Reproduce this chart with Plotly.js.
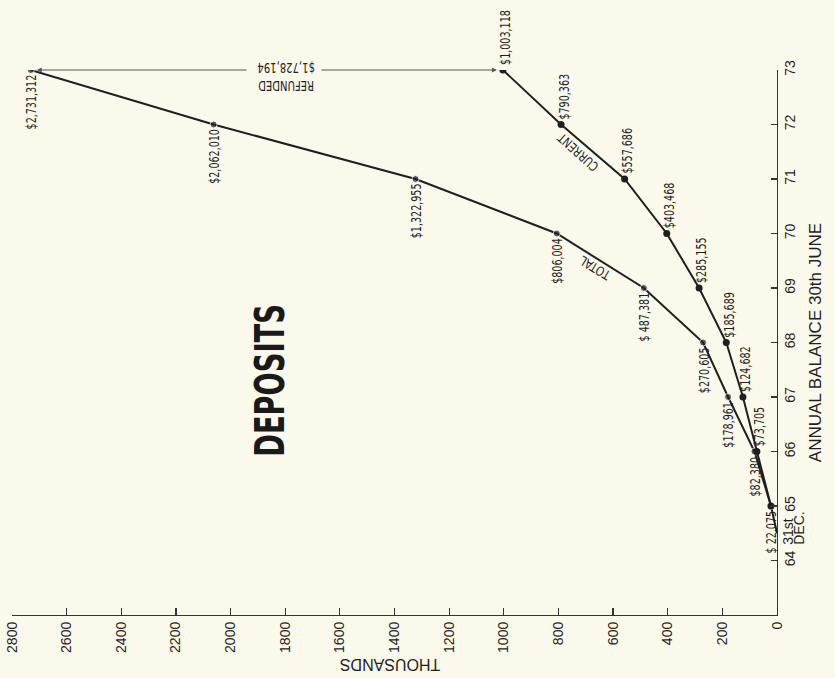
<!DOCTYPE html>
<html>
<head>
<meta charset="utf-8">
<script src="https://cdn.plot.ly/plotly-3.0.1.min.js"></script>
<style>
  html, body { margin: 0; padding: 0; background: #fbf9ec; }
  #chart { width: 835px; height: 678px; }
</style>
</head>
<body>
<div id="chart"></div>
<script>
// ---- data (thousands of dollars) ----
const totalYears   = [64.5, 65, 66, 67, 68, 69, 70, 71, 72, 73];
const totalValues  = [0, 22.075, 82.380, 178.961, 270.605, 487.381, 806.004, 1322.955, 2062.010, 2731.312];
const totalLabels  = ['', '$ 22,075', '$82,380', '$178,961', '$270,605', '$ 487,381', '$806,004', '$1,322,955', '$2,062,010', '$2,731,312'];

const currentYears  = [65, 66, 67, 68, 69, 70, 71, 72, 73];
const currentValues = [22.075, 73.705, 124.682, 185.689, 285.155, 403.468, 557.686, 790.363, 1003.118];
const currentLabels = ['', '$73,705', '$124,682', '$185,689', '$285,155', '$403,468', '$557,686', '$790,363', '$1,003,118'];

const yearTicks    = [64, 65, 66, 67, 68, 69, 70, 71, 72, 73];
const yearTickText = ['64', '65', '66', '67', '68', '69', '70', '71', '72', '73'];
const valueTicks   = [0, 200, 400, 600, 800, 1000, 1200, 1400, 1600, 1800, 2000, 2200, 2400, 2600, 2800];

const refundedText = 'REFUNDED<br>$1,728,194';

// ---- styles ----
const INK = '#1f1f1f';
const NARROW = 'DejaVu Sans Condensed, sans-serif';
const SANS = 'Liberation Sans, Arial, sans-serif';
const BG = '#fbf9ec';

const traces = [
  {
    x: totalValues, y: totalYears, type: 'scatter', mode: 'lines+markers',
    line: { color: INK, width: 2 },
    marker: { color: INK, size: totalValues.map((v, i) => i === 0 ? 0 : 7) },
    hoverinfo: 'skip'
  },
  {
    x: currentValues, y: currentYears, type: 'scatter', mode: 'lines+markers',
    line: { color: INK, width: 2 },
    marker: { color: INK, size: 7 },
    hoverinfo: 'skip'
  }
];

const annotations = [];
const squeeze = [];   // horizontal compression of condensed type: [index, factor, pivot]
function addAnn(a, f, pivot) {
  annotations.push(a);
  if (f) squeeze.push([annotations.length - 1, f, pivot]);
}

totalValues.forEach((v, i) => {
  if (!totalLabels[i]) return;
  addAnn({
    x: v, y: totalYears[i], xref: 'x', yref: 'y', text: totalLabels[i],
    showarrow: false, textangle: -90, xanchor: 'center', yanchor: 'top', yshift: -3,
    font: { family: NARROW, size: 14, color: INK }
  }, 0.76, 'end');
});
currentValues.forEach((v, i) => {
  if (!currentLabels[i]) return;
  addAnn({
    x: v, y: currentYears[i], xref: 'x', yref: 'y', text: currentLabels[i],
    showarrow: false, textangle: -90, xanchor: 'center', yanchor: 'bottom', yshift: 3, xshift: 2,
    font: { family: NARROW, size: 14, color: INK }
  }, 0.76, 'start');
});

// series names along the lines
const iT = totalYears.indexOf(69);
addAnn({
  x: (totalValues[iT] + totalValues[iT + 1]) / 2, y: (totalYears[iT] + totalYears[iT + 1]) / 2,
  xref: 'x', yref: 'y', text: 'TOTAL', showarrow: false, textangle: -149,
  xshift: -5, yshift: -7, font: { family: NARROW, size: 13, color: INK }
}, 0.9, 'mid');
const iC = currentYears.indexOf(71);
addAnn({
  x: (currentValues[iC] + currentValues[iC + 1]) / 2, y: (currentYears[iC] + currentYears[iC + 1]) / 2,
  xref: 'x', yref: 'y', text: 'CURRENT', showarrow: false, textangle: -138,
  xshift: -15, yshift: 0, font: { family: NARROW, size: 13, color: INK }
}, 0.88, 'mid');

// refunded arrows
const lastT = totalValues[totalValues.length - 1];
const lastC = currentValues[currentValues.length - 1];
addAnn({
  x: lastT, y: 73, ax: 1936, ay: 73, xref: 'x', yref: 'y', axref: 'x', ayref: 'y',
  text: '', showarrow: true, arrowhead: 2, arrowsize: 1, arrowwidth: 1, arrowcolor: '#555', standoff: 6
});
addAnn({
  x: lastC, y: 73, ax: 1673, ay: 73, xref: 'x', yref: 'y', axref: 'x', ayref: 'y',
  text: '', showarrow: true, arrowhead: 2, arrowsize: 1, arrowwidth: 1, arrowcolor: '#555', standoff: 6
});
addAnn({
  x: 1795, y: 73, xref: 'x', yref: 'y', text: refundedText, showarrow: false,
  textangle: 180, yshift: -7, align: 'center',
  font: { family: NARROW, size: 14, color: INK }
}, 0.8, 'mid');

// 31st DEC. note
addAnn({
  x: 0, y: 64.5, xref: 'x', yref: 'y', text: '31st', showarrow: false,
  textangle: -90, xanchor: 'center', yanchor: 'bottom', xshift: 11, yshift: -14,
  font: { family: SANS, size: 14, color: INK }
});
addAnn({
  x: 0, y: 64.5, xref: 'x', yref: 'y', text: 'DEC.', showarrow: false,
  textangle: -90, xanchor: 'center', yanchor: 'bottom', xshift: 22, yshift: -14,
  font: { family: SANS, size: 14, color: INK }
});

// big title
addAnn({
  x: 1856, y: 67.3, xref: 'x', yref: 'y', text: '<b>DEPOSITS</b>', showarrow: false,
  textangle: -90, font: { family: NARROW, size: 41, color: '#1a1a1a' }
}, 0.74, 'mid');

// x-axis title (upside down)
addAnn({
  x: 0.495, y: -0.092, xref: 'paper', yref: 'paper', text: 'THOUSANDS', showarrow: false,
  textangle: 180, xanchor: 'center', yanchor: 'middle',
  font: { family: SANS, size: 16, color: INK }
});

const layout = {
  width: 835, height: 678,
  margin: { l: 12, r: 58, t: 70, b: 63 },
  paper_bgcolor: BG, plot_bgcolor: BG,
  showlegend: false,
  xaxis: {
    range: [2800, 0], tickvals: valueTicks, ticktext: valueTicks.map(String),
    ticks: 'inside', ticklen: 7, tickcolor: '#333', tickwidth: 1.2, tickangle: -90,
    showline: true, linecolor: '#333', linewidth: 1.2, showgrid: false, zeroline: false,
    tickfont: { family: SANS, size: 14, color: INK }
  },
  yaxis: {
    range: [63, 73], side: 'right', tickvals: yearTicks, ticktext: yearTickText,
    ticks: 'inside', ticklen: 6, tickcolor: '#333', tickwidth: 1.2, tickangle: -90,
    showline: true, linecolor: '#333', linewidth: 1.2, showgrid: false, zeroline: false,
    tickfont: { family: SANS, size: 14, color: INK },
    title: { text: 'ANNUAL BALANCE 30th JUNE', font: { family: SANS, size: 17, color: INK }, standoff: 12 }
  },
  annotations: annotations
};

Plotly.newPlot('chart', traces, layout, { displayModeBar: false, staticPlot: true }).then(gd => {
  // imitate the condensed typeface of the original by narrowing the glyphs
  const byIndex = {};
  squeeze.forEach(([i, f, p]) => { byIndex[i] = [f, p]; });
  gd.querySelectorAll('g.annotation').forEach(g => {
    const s = byIndex[+g.getAttribute('data-index')];
    if (!s) return;
    const t = g.querySelector('text.annotation-text');
    if (!t) return;
    const bb = t.getBBox();
    const px = s[1] === 'start' ? bb.x : s[1] === 'end' ? bb.x + bb.width : bb.x + bb.width / 2;
    t.setAttribute('transform', `translate(${px},0) scale(${s[0]},1) translate(${-px},0)`);
  });
});
</script>
</body>
</html>
